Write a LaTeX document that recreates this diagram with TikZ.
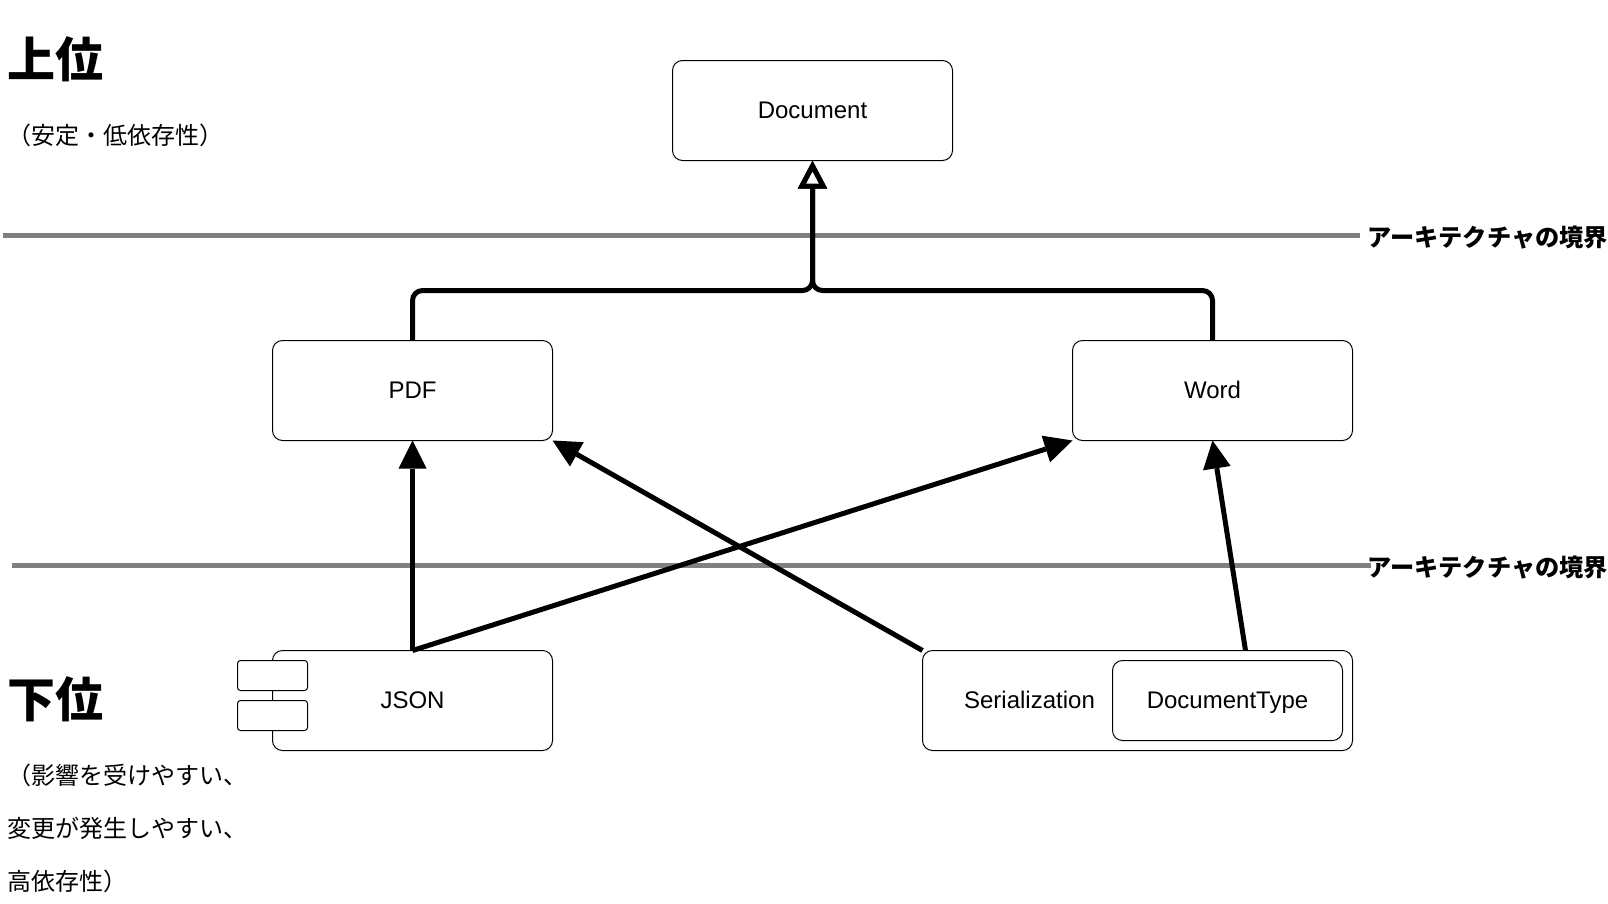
\documentclass[tikz,border=0pt]{standalone}
\usepackage{fontspec}
\setmainfont{Liberation Sans}
\newfontfamily\cjk{Noto Sans CJK JP}
\usetikzlibrary{arrows.meta}
\tikzset{
  box/.style={draw=black,fill=white,line width=1pt,rounded corners=10pt,inner sep=0pt,outer sep=0pt,
    font=\fontsize{24}{28}\selectfont,text height=20pt,text depth=4pt},
  plain/.style={inner sep=0pt,outer sep=0pt,font=\fontsize{24}{28}\selectfont,text height=20pt,text depth=4pt},
  boundary/.style={draw=black!50,line width=5pt},
  link/.style={line width=5pt,draw=black},
  dep/.style={link,-{Triangle[length=28pt,width=28pt,line width=0pt]}},
  inherit/.style={link,rounded corners=10pt,-{Triangle[open,length=28pt,width=28pt,line width=5pt,fill=white]}},
  head/.style={inner sep=0pt,outer sep=0pt,anchor=west,font=\cjk\bfseries\fontsize{48}{54}\selectfont},
  note/.style={inner sep=0pt,outer sep=0pt,anchor=west,font=\cjk\fontsize{24}{28}\selectfont},
  edge label/.style={inner sep=0pt,outer sep=0pt,anchor=west,font=\cjk\bfseries\fontsize{24.2}{28}\selectfont}
}
\begin{document}
\begin{tikzpicture}[x=1pt,y=-1pt]
\useasboundingbox (0,0) rectangle (1608,903);
\begin{scope}[shift={(0.5,0.5)}]
% boundaries
\coordinate (b1a) at (2,235);
\coordinate (b2a) at (11.5,565);
\node[edge label] (b1t) at (1367,237.5) {アーキテクチャの境界};
\node[edge label] (b2t) at (1367,567.5) {アーキテクチャの境界};
\coordinate (b1b) at (1359.5,235);
\coordinate (b2b) at (1370,565);
\draw[boundary] (b1a) -- (b1b);
\draw[boundary] (b2a) -- (b2b);
% boxes
\node[box,minimum width=280pt,minimum height=100pt] (doc) at (812,110) {Document};
\node[box,minimum width=280pt,minimum height=100pt] (pdf) at (412,390) {PDF};
\node[box,minimum width=280pt,minimum height=100pt] (word) at (1212,390) {Word};
\node[box,minimum width=280pt,minimum height=100pt] (json) at (412,700) {JSON};
\node[box,minimum width=70pt,minimum height=30pt,rounded corners=3pt] (p1) at (272,675) {};
\node[box,minimum width=70pt,minimum height=30pt,rounded corners=3pt] (p2) at (272,715) {};
\node[box,minimum width=430pt,minimum height=100pt] (ser) at (1137,700) {};
\node[plain] (sert) at (1029,700) {Serialization};
\node[box,minimum width=230pt,minimum height=80pt] (dt) at (1227,700) {DocumentType};
% connectors
\coordinate (junc) at (812,290);
\coordinate (sertop) at (1245,650);
\draw[inherit] (pdf.north) |- (junc) -- (doc.south);
\draw[inherit] (word.north) |- (junc) -- (doc.south);
\draw[dep] (json.north) -- (pdf.south);
\draw[dep] (json.north) -- (word.south west);
\draw[dep] (ser.north west) -- (pdf.south east);
\draw[dep] (sertop) -- (word.south);
% side texts
\node[head] (top) at (7,58.5) {上位};
\node[note] (topn) at (7,135) {（安定・低依存性）};
\node[head] (low) at (7,698.5) {下位};
\node[note] (l1) at (7,775) {（影響を受けやすい、};
\node[note] (l2) at (7,828) {変更が発生しやすい、};
\node[note] (l3) at (7,881) {高依存性）};
\end{scope}
\end{tikzpicture}
\end{document}
